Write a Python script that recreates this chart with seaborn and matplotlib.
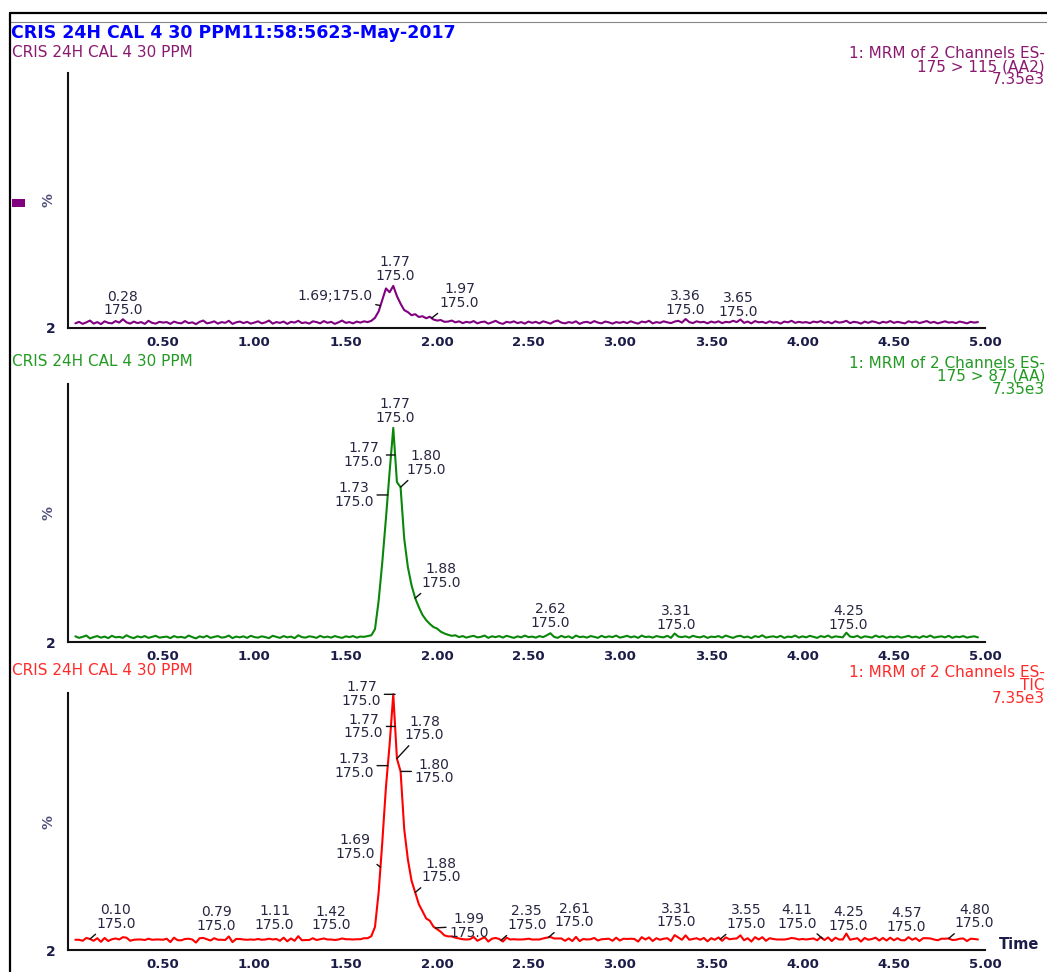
import numpy as np
import seaborn as sns
import matplotlib.pyplot as plt
from matplotlib.lines import Line2D
from matplotlib.patches import Rectangle

# scan times in minutes (one scan every 0.02 min)
scan_times = np.round(np.arange(1, 249) * 0.02, 2)

# 175 > 115 (AA2), % of 7.35e3
aa2_pct = np.array([
    1.8, 2.4, 1.6, 2.2, 2.9, 1.7, 2.3, 1.5, 2.6, 2.0, 1.8, 2.7, 2.1, 3.4, 2.2, 1.7, 2.5, 1.9, 2.3, 1.6, 2.8, 2.0, 1.7, 2.4, 2.1,
    2.3, 1.6, 2.5, 2.0, 1.8, 2.7, 1.9, 2.2, 1.5, 2.4, 2.9, 1.8, 2.1, 2.6, 1.7, 2.3, 2.0, 2.8, 1.6, 2.2, 2.5, 1.9, 2.4, 1.7, 2.1,
    2.6, 1.8, 2.2, 2.9, 1.7, 2.3, 2.0, 2.5, 1.6, 2.4, 2.1, 2.8, 1.9, 2.2, 1.7, 2.6, 2.3, 1.8, 2.7, 2.0, 2.4, 1.6, 2.2, 2.9, 2.0,
    2.3, 1.8, 2.5, 2.1, 2.6, 2.3, 2.8, 4.0, 6.5, 11.0, 15.5, 14.0, 16.5, 12.5, 9.5, 7.0, 6.2, 5.0, 5.4, 4.3, 4.6, 3.8, 4.4, 3.3, 2.9,
    3.1, 2.4, 2.5, 2.9, 2.2, 2.6, 1.9, 2.4, 2.1, 2.7, 1.8, 2.3, 2.5, 1.7, 2.2, 2.8, 2.0, 1.6, 2.4, 2.1, 2.6, 1.9, 2.3, 1.7, 2.5,
    2.0, 2.4, 1.8, 2.6, 2.2, 1.7, 2.5, 2.9, 2.1, 1.8, 2.3, 2.0, 2.6, 1.6, 2.2, 2.4, 1.9, 2.7, 2.1, 1.8, 2.5, 2.2, 1.7, 2.3, 2.0,
    2.4, 1.9, 2.6, 2.1, 1.7, 2.5, 2.2, 2.8, 1.8, 2.3, 2.0, 2.6, 2.2, 1.9, 2.5, 2.8, 2.1, 3.5, 2.3, 1.9, 2.6, 2.2, 2.4, 1.8, 2.5,
    2.1, 2.6, 1.9, 2.4, 2.2, 2.8, 2.3, 3.3, 2.0, 2.5, 1.8, 2.7, 2.2, 2.4, 1.9, 2.6, 2.1, 2.3, 1.7, 2.5, 2.2, 2.8, 2.0, 2.4, 2.1,
    2.3, 1.9, 2.5, 2.2, 2.7, 2.0, 2.4, 1.8, 2.6, 2.1, 2.3, 2.8, 1.9, 2.4, 2.2, 1.7, 2.5, 2.0, 2.6, 2.3, 1.8, 2.4, 2.1, 2.7, 2.0,
    2.4, 2.1, 1.8, 2.6, 2.2, 2.5, 1.9, 2.3, 2.7, 2.0, 2.4, 1.8, 2.2, 2.6, 2.1, 2.3, 1.9, 2.5, 2.2, 1.8, 2.4, 2.1, 2.3,
])

# 175 > 87 (AA), % of 7.35e3
aa_pct = np.array([
    2.2, 1.6, 2.0, 2.5, 1.4, 1.9, 2.3, 1.7, 2.1, 1.5, 2.4, 1.8, 2.0, 1.6, 2.6, 1.9, 1.5, 2.2, 1.8, 2.3, 1.6, 2.0, 2.4, 1.7, 1.9,
    2.1, 1.5, 2.3, 1.8, 2.0, 1.6, 2.5, 1.9, 1.4, 2.2, 1.8, 2.4, 1.6, 2.0, 2.3, 1.7, 1.9, 2.5, 1.5, 2.1, 1.8, 2.2, 1.6, 2.4, 1.9,
    1.7, 2.2, 1.9, 1.5, 2.4, 2.0, 1.6, 2.3, 1.8, 2.1, 1.5, 2.6, 1.9, 1.7, 2.2, 2.0, 1.6, 2.4, 1.8, 2.1, 1.7, 2.3, 1.9, 1.6, 2.2,
    1.9, 2.3, 1.7, 2.1, 2.0, 2.3, 2.6, 5.0, 16.0, 31.0, 48.0, 66.0, 83.0, 62.0, 60.0, 40.0, 29.0, 22.0, 17.0, 13.5, 10.5, 8.5, 7.0, 5.8, 5.2,
    4.0, 3.3, 2.8, 2.4, 2.6, 1.9, 2.3, 1.7, 2.1, 2.4, 1.8, 2.0, 2.5, 1.6, 2.2, 1.9, 2.3, 1.7, 2.4, 2.0, 1.6, 2.2, 1.8, 2.5, 1.9,
    2.1, 1.7, 2.3, 1.9, 2.6, 3.4, 2.0, 1.6, 2.4, 1.8, 2.2, 1.5, 2.5, 1.9, 2.1, 1.7, 2.3, 2.0, 1.6, 2.4, 1.8, 2.2, 1.9, 2.5, 1.7,
    2.0, 2.4, 1.8, 2.2, 1.6, 2.5, 1.9, 2.1, 1.7, 2.3, 2.0, 1.8, 2.4, 1.6, 3.3, 2.1, 1.9, 2.2, 1.7, 2.4, 2.0, 1.8, 2.3, 1.6, 2.1,
    1.9, 2.3, 1.7, 2.5, 2.0, 1.6, 2.2, 2.4, 1.8, 2.1, 1.5, 2.3, 1.9, 2.6, 1.7, 2.0, 2.2, 1.8, 2.4, 1.6, 2.1, 1.9, 2.5, 1.7, 2.2,
    1.8, 2.4, 2.0, 1.6, 2.3, 1.9, 2.5, 1.7, 2.2, 2.0, 1.8, 3.6, 2.1, 1.9, 2.4, 1.6, 2.2, 2.0, 1.7, 2.5, 1.9, 2.3, 1.6, 2.1, 1.8,
    2.2, 1.7, 2.0, 2.4, 1.8, 2.1, 1.6, 2.3, 1.9, 2.5, 1.7, 2.0, 2.2, 1.8, 2.4, 1.6, 2.1, 1.9, 2.3, 1.7, 2.0, 2.2, 1.8,
])

# TIC of the two channels
tic_pct = aa2_pct + aa_pct

# labelled scan times
aa2_peaks = [0.28, 1.69, 1.77, 1.97, 3.36, 3.65]
aa_peaks = [1.73, 1.77, 1.77, 1.80, 1.88, 2.62, 3.31, 4.25]
tic_peaks = [0.10, 0.79, 1.11, 1.42, 1.69, 1.73, 1.77, 1.77, 1.78, 1.80,
             1.88, 1.99, 2.35, 2.61, 3.31, 3.55, 4.11, 4.25, 4.57, 4.80]
peak_mass = '175.0'

header = 'CRIS 24H CAL 4 30 PPM11:58:5623-May-2017'
sample = 'CRIS 24H CAL 4 30 PPM'
channels = ['175 > 115 (AA2)', '175 > 87 (AA)', 'TIC']
full_scale = '7.35e3'

# label layout: (dx px, dy px, ha, va, leader line, sit on peak top, separator)
aa2_style = [(0, 2, 'center', 'bottom', False, False, '\n'),
             (-8, 10, 'right', 'center', True, False, ';'),
             (0, 3, 'center', 'bottom', False, True, '\n'),
             (8, 8, 'left', 'bottom', True, False, '\n'),
             (0, 2, 'center', 'bottom', False, False, '\n'),
             (0, 2, 'center', 'bottom', False, False, '\n')]
aa_style = [(-14, 0, 'right', 'center', True, False, '\n'),
            (-12, 0, 'right', 'center', True, False, '\n'),
            (0, 3, 'center', 'bottom', False, True, '\n'),
            (6, 10, 'left', 'bottom', True, False, '\n'),
            (6, 8, 'left', 'bottom', True, False, '\n'),
            (0, 3, 'center', 'bottom', False, False, '\n'),
            (0, 3, 'center', 'bottom', False, False, '\n'),
            (0, 3, 'center', 'bottom', False, False, '\n')]
tic_style = [(6, 8, 'left', 'bottom', True, False, '\n'),
             (0, 6, 'center', 'bottom', False, False, '\n'),
             (0, 7, 'center', 'bottom', False, False, '\n'),
             (0, 7, 'center', 'bottom', False, False, '\n'),
             (-6, 6, 'right', 'bottom', True, False, '\n'),
             (-14, 0, 'right', 'center', True, False, '\n'),
             (-12, 0, 'right', 'center', True, False, '\n'),
             (-14, 0, 'right', 'center', True, True, '\n'),
             (8, 30, 'left', 'center', True, False, '\n'),
             (14, 0, 'left', 'center', True, False, '\n'),
             (6, 8, 'left', 'bottom', True, False, '\n'),
             (14, 2, 'left', 'center', True, False, '\n'),
             (6, 8, 'left', 'bottom', True, False, '\n'),
             (6, 8, 'left', 'bottom', True, False, '\n'),
             (0, 7, 'center', 'bottom', False, False, '\n'),
             (6, 8, 'left', 'bottom', True, False, '\n'),
             (-6, 8, 'right', 'bottom', True, False, '\n'),
             (0, 4, 'center', 'bottom', False, False, '\n'),
             (0, 5, 'center', 'bottom', False, False, '\n'),
             (6, 8, 'left', 'bottom', True, False, '\n')]

sns.set_style('white')
plt.rcParams['font.family'] = ['DejaVu Sans']

navy = '#1c1c48'
lab_col = '#262640'

fig = plt.figure(figsize=(10.47, 9.72), dpi=100)

panels = [
    (aa2_pct, aa2_peaks, aa2_style, '#800080', '#8a1a70', channels[0], [0.065, 0.6626, 0.876, 0.2623], 0.9465),
    (aa_pct, aa_peaks, aa_style, '#0a870a', '#239a23', channels[1], [0.065, 0.3395, 0.876, 0.2654], 0.6276),
    (tic_pct, tic_peaks, tic_style, '#ff0000', '#ff2a2a', channels[2], [0.065, 0.0226, 0.876, 0.2644], 0.3097),
]

for vals, peaks, styles, col, tcol, chan, rect, ytitle in panels:
    ax = fig.add_axes(rect)
    sns.lineplot(x=scan_times, y=vals, ax=ax, color=col, linewidth=1.5)
    ax.set_xlim(-0.02, 5.0)
    ax.set_ylim(0, 100)
    ax.set_xlabel('')
    ax.set_ylabel('')
    for s in ['top', 'right']:
        ax.spines[s].set_visible(False)
    for s in ['left', 'bottom']:
        ax.spines[s].set_linewidth(1.5)
        ax.spines[s].set_color('#111111')

    major = np.round(np.arange(0.25, 5.01, 0.25), 2)
    ax.set_xticks(major)
    ax.set_xticklabels([f'{v:.2f}' if abs(v * 2 - round(v * 2)) < 1e-6 else '' for v in major])
    ax.set_xticks(np.round(np.arange(0.05, 5.0, 0.05), 2), minor=True)
    ax.tick_params(axis='x', which='major', direction='out', length=5, width=1.2,
                   color='#111111', labelsize=9.5, labelcolor=navy, pad=0.5)
    ax.tick_params(axis='x', which='minor', direction='out', length=2.5, width=1.0, color='#111111')
    for lab in ax.get_xticklabels():
        lab.set_fontweight('bold')

    ax.set_yticks(range(0, 101, 10))
    ylabs = ['2', '', '', '', '', '%', '', '', '', '', '']
    ax.set_yticklabels(ylabs)
    ax.tick_params(axis='y', direction='out', length=7, width=1.2, color='#111111',
                   labelsize=10, labelcolor=navy, pad=2)
    for lab in ax.get_yticklabels():
        lab.set_fontweight('bold')
        if lab.get_text() == '%':
            lab.set_rotation(90)
            lab.set_va('center')
            lab.set_color('#50507a')

    for t, st in zip(peaks, styles):
        dx, dy, ha, va, line, top, sep = st
        if top:
            near = np.abs(scan_times - t) <= 0.03
            y = vals[near].max()
        else:
            y = np.interp(t, scan_times, vals)
        arrow = dict(arrowstyle='-', color='#111111', lw=1.0, shrinkA=0, shrinkB=0) if line else None
        ax.annotate(f'{t:.2f}{sep}{peak_mass}', xy=(t, y), xytext=(dx, dy),
                    textcoords='offset pixels', ha=ha, va=va, fontsize=10,
                    color=lab_col, linespacing=0.98, multialignment='center',
                    arrowprops=arrow, annotation_clip=False)

    fig.text(0.0115, ytitle, sample, color=tcol, fontsize=11, va='center', ha='left')
    fig.text(0.998, ytitle + 0.006, f'1: MRM of 2 Channels ES-\n{chan}\n{full_scale}',
             color=tcol, fontsize=11, va='top', ha='right', linespacing=0.82)

fig.text(0.0105, 0.966, header, color='#0000ff', fontsize=12.5, fontweight='bold', va='center', ha='left')
fig.text(0.954, 0.0287, 'Time', color=navy, fontsize=10.5, fontweight='bold', va='center', ha='left')

# frame lines and the trace marker
fig.add_artist(Line2D([0.0096, 1.0], [0.9866, 0.9866], transform=fig.transFigure, color='black', lw=1.6))
fig.add_artist(Line2D([0.0096, 1.0], [0.9774, 0.9774], transform=fig.transFigure, color='#888888', lw=0.8))
fig.add_artist(Line2D([0.0096, 0.0096], [0.0, 0.9866], transform=fig.transFigure, color='black', lw=1.6))
fig.add_artist(Rectangle((0.0115, 1 - 207 / 972), 13 / 1047, 8 / 972, transform=fig.transFigure,
                         color='#800080', lw=0))

fig.savefig('out.png', dpi=100)
